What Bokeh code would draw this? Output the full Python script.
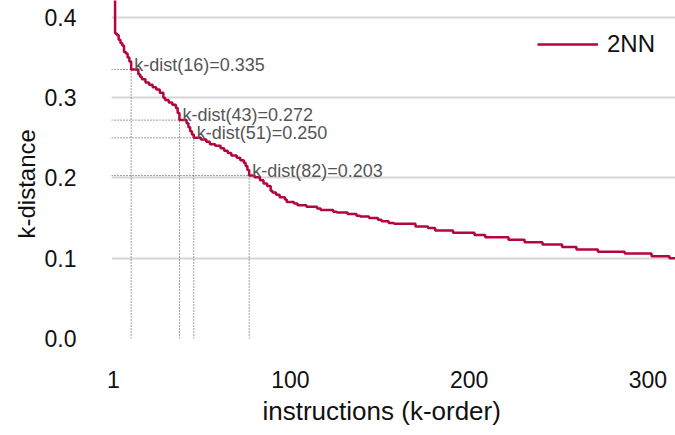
import numpy as np
from bokeh.plotting import figure
from bokeh.models import (Range1d, FixedTicker, Legend, LegendItem, ColumnDataSource,
                          Title)
from bokeh.embed import file_html
from bokeh.resources import INLINE
from bokeh.core.properties import value

# k-distance curve (2NN), stored as steps: rank where each level begins and its distance
rank_start = [1, 2, 3, 4, 5, 6, 7, 8, 9, 10, 11, 15, 16, 17, 19, 21, 23, 25, 27, 29,
              30, 32, 34, 36, 37, 38, 42, 43, 44, 45, 46, 50, 53, 55, 58, 61, 63, 65,
              67, 70, 72, 74, 75, 76, 77, 80, 83, 85, 87, 89, 90, 92, 94, 97, 98, 102,
              104, 109, 115, 117, 124, 126, 132, 137, 139, 144, 149, 151, 155, 158,
              170, 177, 181, 191, 203, 209, 222, 231, 241, 252, 260, 272, 287, 302, 312]
kdist = [0.470, 0.380, 0.378, 0.372, 0.368, 0.365, 0.357, 0.355, 0.350, 0.345, 0.335,
         0.329, 0.326, 0.323, 0.319, 0.316, 0.313, 0.310, 0.306, 0.300, 0.297, 0.294,
         0.291, 0.287, 0.281, 0.272, 0.268, 0.263, 0.258, 0.254, 0.250, 0.248, 0.245,
         0.242, 0.240, 0.237, 0.234, 0.231, 0.228, 0.225, 0.222, 0.219, 0.215, 0.210,
         0.203, 0.201, 0.197, 0.193, 0.190, 0.184, 0.182, 0.179, 0.176, 0.173, 0.170,
         0.168, 0.166, 0.164, 0.162, 0.160, 0.158, 0.157, 0.155, 0.153, 0.152, 0.150,
         0.148, 0.146, 0.144, 0.143, 0.1395, 0.1376, 0.1345, 0.1316, 0.129, 0.126,
         0.123, 0.120, 0.117, 0.114, 0.111, 0.108, 0.106, 0.1025, 0.100, 0.097]
last_rank = 316

# highlighted neighbourhood sizes and their k-distances
annot_k = [16, 43, 51, 82]
annot_dist = [0.335, 0.272, 0.250, 0.203]

x_ticks = [1, 100, 200, 300]
y_ticks = [0.0, 0.1, 0.2, 0.3, 0.4]

FONT = "Liberation Sans"
RED = "#b5053f"

p = figure(width=675, height=435, output_backend="svg", toolbar_location=None,
           x_range=Range1d(0, 315.4), y_range=Range1d(0, 0.421),
           min_border_left=111, min_border_right=0, min_border_top=0,
           min_border_bottom=97)
p.outline_line_color = None
p.background_fill_color = "white"

# axes: no lines or ticks, just labels
for ax in (p.xaxis[0], p.yaxis[0]):
    ax.axis_line_color = None
    ax.major_tick_line_color = None
    ax.minor_tick_line_color = None
    ax.major_label_text_font = FONT
    ax.major_label_text_font_size = "23px"
    ax.major_label_text_color = "#111111"

p.xaxis.ticker = FixedTicker(ticks=x_ticks)
p.yaxis.ticker = FixedTicker(ticks=y_ticks)
p.yaxis.major_label_overrides = {t: f"{t:.1f}" for t in y_ticks}
p.xaxis.major_label_standoff = 26
p.yaxis.major_label_standoff = 29

# axis titles, placed at a fixed distance from the frame's lower-left corner
p.add_layout(Title(text="instructions (k-order)", align="left", offset=151,
                   text_font=FONT, text_font_size="26px", text_font_style="normal",
                   text_color="#111111", standoff=6), "below")
p.add_layout(Title(text="k-distance", align="left", offset=100,
                   text_font=FONT, text_font_size="24px", text_font_style="normal",
                   text_color="#111111", standoff=3), "left")

p.xgrid.grid_line_color = None
p.ygrid.ticker = FixedTicker(ticks=[t for t in y_ticks if t > 0])
p.ygrid.grid_line_color = "#d6d6d6"
p.ygrid.grid_line_width = 2

# locate each highlighted distance on the curve: first rank reaching that level
rs = np.array(rank_start, dtype=float)
kd = np.array(kdist)
annot_x = [rs[np.argmax(kd <= v + 1e-9)] for v in annot_dist]
x0 = p.x_range.start

guides = ColumnDataSource(dict(
    x=annot_x, y=annot_dist, x0=[x0] * len(annot_x), y0=[0.0] * len(annot_x),
    label=[f"k-dist({k})={v:.3f}" for k, v in zip(annot_k, annot_dist)]))
p.segment(x0="x0", y0="y", x1="x", y1="y", source=guides,
          line_color="#444444", line_width=1, line_dash="1 2")
p.segment(x0="x", y0="y0", x1="x", y1="y", source=guides,
          line_color="#444444", line_width=1, line_dash="1 2")

xs = rank_start + [last_rank]
ys = kdist + [kdist[-1]]
curve = p.step(xs, ys, mode="after", line_color=RED, line_width=2.5)

p.text(x="x", y="y", text="label", source=guides, x_offset=3, y_offset=-5,
       text_font=value(FONT), text_font_size="18px", text_color="#555555",
       text_baseline="alphabetic", text_align="left")

legend = Legend(items=[LegendItem(label="2NN", renderers=[curve])],
                location=(426, 280), border_line_color=None,
                background_fill_alpha=0, label_text_font=FONT,
                label_text_font_size="24px", label_text_color="#111111",
                glyph_width=61, label_standoff=9, margin=0, padding=10)
p.add_layout(legend)

open("out.html", "w").write(file_html(p, INLINE))
